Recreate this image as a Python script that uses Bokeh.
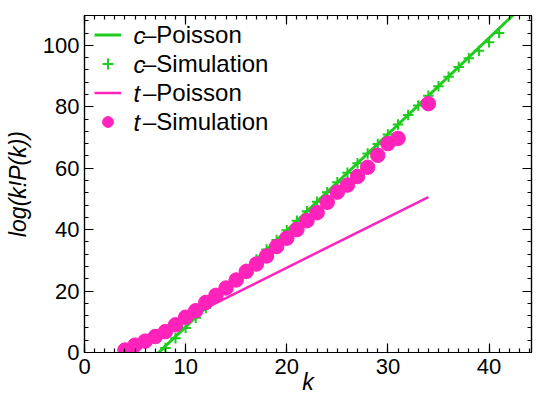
from bokeh.plotting import figure
from bokeh.models import (Range1d, LinearAxis, Legend, LegendItem, Label,
                          SingleIntervalTicker, CustomLabelingPolicy)
from bokeh.embed import file_html
from bokeh.resources import INLINE

# ---- data ----
c_poisson_k = [7.0, 43.0]
c_poisson_y = [-1.05, 111.8]

c_sim_k = list(range(8, 42))
c_sim_y = [1.5, 4.6, 8.0, 11.3, 14.5, 17.7, 20.8, 24.0, 27.2, 30.3,
           33.5, 36.6, 39.8, 42.9, 46.0, 49.1, 52.2, 55.4, 58.5, 61.6,
           64.8, 67.9, 71.0, 74.2, 77.3, 80.4, 83.6, 86.7, 89.8, 92.9,
           95.8, 98.2, 101.0, 104.0]

t_poisson_k = [4.0, 34.0]
t_poisson_y = [1.36, 50.56]

t_sim_k = list(range(4, 32)) + [34]
t_sim_y = [0.8, 2.4, 3.7, 5.2, 6.8, 9.0, 11.5, 13.6, 16.3, 18.6,
           21.0, 23.6, 26.4, 28.8, 31.4, 34.5, 37.2, 40.0, 42.9, 45.5,
           48.9, 52.2, 54.5, 57.3, 60.3, 64.2, 68.0, 69.7, 81.0]

legend_prefix = ["c", "c", "t", "t"]
legend_suffix = ["\u2013Poisson", "\u2013Simulation", "\u2013Poisson", "\u2013Simulation"]

GREEN = "#1ecc1e"
PINK = "#ff22bb"
FONT = "Liberation Sans"
W, H = 536, 399
BL, BR, BT, BB = 84, 5, 15, 47
FRAME_H = H - BT - BB

p = figure(width=W, height=H, output_backend="svg", toolbar_location=None,
           x_range=Range1d(0, 44.2), y_range=Range1d(0, 109.7),
           min_border_left=BL, min_border_right=BR, min_border_top=BT,
           min_border_bottom=BB)
p.background_fill_color = "white"
p.border_fill_color = "white"
p.outline_line_color = "black"
p.outline_line_width = 1.2
p.xgrid.visible = False
p.ygrid.visible = False

def style_axis(ax, labels=True):
    ax.axis_line_color = "black"
    ax.axis_line_width = 1.2
    ax.major_tick_in = 9
    ax.major_tick_out = 0
    ax.minor_tick_in = 4
    ax.minor_tick_out = 0
    ax.major_tick_line_color = "black"
    ax.minor_tick_line_color = "black"
    ax.major_tick_line_width = 1.2
    ax.minor_tick_line_width = 1.2
    if labels:
        ax.major_label_text_font = FONT
        ax.major_label_text_font_size = "22px"
        ax.major_label_text_color = "black"
    else:
        ax.major_label_policy = CustomLabelingPolicy(code="return []")
        ax.major_label_text_font_size = "1px"
        ax.major_label_standoff = 0

p.xaxis.ticker = SingleIntervalTicker(interval=10, num_minor_ticks=10)
p.yaxis.ticker = SingleIntervalTicker(interval=20, num_minor_ticks=5)
style_axis(p.xaxis[0])
style_axis(p.yaxis[0])
p.xaxis.major_label_standoff = 6
p.yaxis.major_label_standoff = 5
p.xaxis.axis_label = "k"
p.yaxis.axis_label = "log(k!P(k))"
for ax in (p.xaxis[0], p.yaxis[0]):
    ax.axis_label_text_font = FONT
    ax.axis_label_text_font_size = "23px"
    ax.axis_label_text_font_style = "italic"
    ax.axis_label_text_color = "black"
p.xaxis.axis_label_standoff = -8
p.yaxis.axis_label_standoff = 9

top = LinearAxis(ticker=SingleIntervalTicker(interval=10, num_minor_ticks=10))
right = LinearAxis(ticker=SingleIntervalTicker(interval=20, num_minor_ticks=5))
style_axis(top, labels=False)
style_axis(right, labels=False)
p.add_layout(top, "above")
p.add_layout(right, "right")

r_cp = p.line(c_poisson_k, c_poisson_y, line_color=GREEN, line_width=3)
r_cs = p.scatter(c_sim_k, c_sim_y, marker="cross", size=10.5, line_color=GREEN,
                 line_width=2)
r_tp = p.line(t_poisson_k, t_poisson_y, line_color=PINK, line_width=2.5)
r_ts = p.scatter(t_sim_k, t_sim_y, marker="circle", size=14.5, fill_color=PINK,
                 line_color=PINK)

ROW = 29
items = [LegendItem(label=s, renderers=[r]) for s, r in
         zip(legend_suffix, [r_cp, r_cs, r_tp, r_ts])]
legend = Legend(items=items, location=(10, FRAME_H - 5 - 4 * ROW),
                border_line_color=None, background_fill_alpha=0,
                padding=0, margin=0, spacing=0,
                glyph_width=27, glyph_height=ROW, label_height=ROW,
                label_standoff=22, label_text_font=FONT,
                label_text_font_size="24px", label_text_color="black")
p.add_layout(legend, "center")

for i, pre in enumerate(legend_prefix):
    p.add_layout(Label(x=49, y=FRAME_H - 5 - ROW / 2 - ROW * i,
                       x_units="screen", y_units="screen", text=pre,
                       text_font=FONT, text_font_size="24px",
                       text_font_style="italic", text_color="black",
                       text_baseline="middle", text_align="left"))

open("out.html", "w").write(file_html(p, INLINE))
